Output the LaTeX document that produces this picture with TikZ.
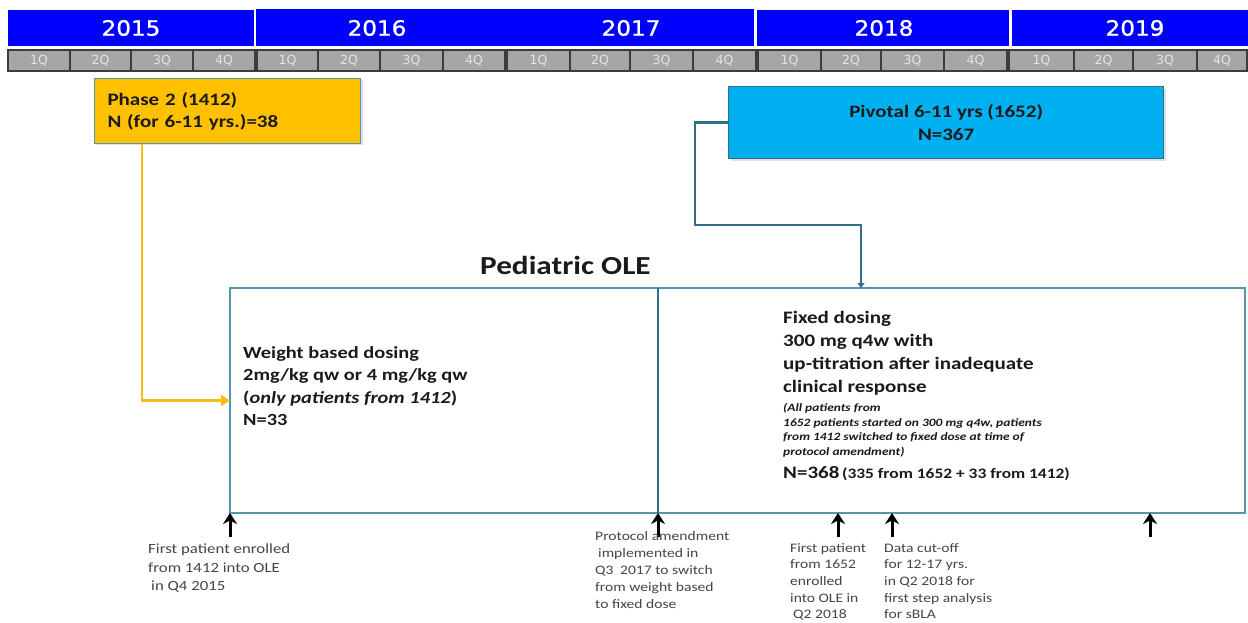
\documentclass[tikz,border=0pt]{standalone}
\usepackage{fontspec}
\setmainfont{Carlito}[FakeStretch=1.2]
\newfontfamily\yearfont{DejaVu Sans}[FakeStretch=1.1,FakeBold=1.2]
\newfontfamily\quarterfont{DejaVu Sans}
\usetikzlibrary{arrows.meta,shadows}

\definecolor{yearblue}{HTML}{0000FF}
\definecolor{qgrey}{HTML}{A6A6A6}
\definecolor{qline}{HTML}{3C3C3C}
\definecolor{qtext}{HTML}{E4E4E4}
\definecolor{phaseorange}{HTML}{FFC000}
\definecolor{phaseline}{HTML}{F7BC1A}
\definecolor{pivblue}{HTML}{00B0F0}
\definecolor{tealdark}{HTML}{2F7089}
\definecolor{tealframe}{HTML}{5596AE}
\definecolor{inktext}{HTML}{1A1A1A}
\definecolor{notetext}{HTML}{454545}

\begin{document}
\begin{tikzpicture}[x=1pt,y=-1pt,
  yearlabel/.style={font=\yearfont\fontsize{21}{21}\selectfont, text=white, inner sep=0pt},
  qcell/.style={fill=qgrey, draw=qline, line width=1.3pt},
  qlabel/.style={font=\quarterfont\fontsize{12.5}{12.5}\selectfont, text=qtext, inner sep=0pt},
  phasebox/.style={fill=phaseorange, draw=tealframe, line width=1pt, inner xsep=13pt, inner ysep=0pt,
    text=inktext, align=left, font=\fontsize{17.5}{22}\selectfont\bfseries,
    drop shadow={opacity=0.25, shadow xshift=2pt, shadow yshift=-2pt}},
  pivbox/.style={fill=pivblue, draw=tealdark, line width=1.3pt, inner sep=0pt,
    text=inktext, align=center, font=\fontsize{17.5}{23}\selectfont\bfseries,
    drop shadow={opacity=0.25, shadow xshift=2pt, shadow yshift=-2pt}},
  olebox/.style={draw=tealframe, line width=2pt, inner sep=0pt, outer sep=0pt},
  bodytext/.style={inner sep=0pt, text=inktext, align=left},
  notetext/.style={inner sep=0pt, text=notetext, align=left},
  phasearrow/.style={draw=phaseline, line width=2.5pt, -{Triangle[length=9pt,width=11pt]}},
  pivarrow/.style={draw=tealdark, line width=2.8pt, -{Triangle[length=5pt,width=7pt]}},
  divider/.style={draw=tealdark, line width=2.8pt},
  tickarrow/.style={draw=black, line width=3pt, -{Stealth[length=11pt,width=14pt]}}
]
\useasboundingbox (0,0) rectangle (1248,623);

% year band
\fill[yearblue] (8,10) rectangle (254,46);
\fill[yearblue] (256,9) rectangle (505,46);
\fill[yearblue] (505,9) rectangle (754,46);
\fill[yearblue] (757,10) rectangle (1009,46);
\fill[yearblue] (1012,10) rectangle (1248,46);
\node[yearlabel] (y2015) at (131,28) {2015};
\node[yearlabel] (y2016) at (377,28) {2016};
\node[yearlabel] (y2017) at (631,28) {2017};
\node[yearlabel] (y2018) at (884,28) {2018};
\node[yearlabel] (y2019) at (1135,28) {2019};

% quarter band
\foreach \a/\b/\q [count=\i] in {8/70/1,70/131/2,131/193/3,193/255/4,
    257/318/1,318/380/2,380/443/3,443/505/4,
    507/570/1,570/630/2,630/693/3,693/756/4,
    758/821/1,821/881/2,881/944/3,944/1007/4,
    1009/1074/1,1074/1133/2,1133/1197/3,1197/1247/4}{
  \draw[qcell] (\a,50) rectangle (\b,71);
  \node[qlabel] (q\i) at ({(\a+\b)/2},60.5) {\q Q};
}

% study boxes
\node[phasebox, minimum width=266pt, minimum height=65pt, text width=240pt, anchor=north west]
  (ph2) at (94,78) {Phase 2 (1412)\\N (for 6-11 yrs.)=38};
\node[pivbox, minimum width=435pt, minimum height=72pt, anchor=north west]
  (piv) at (728,86) {Pivotal 6-11 yrs (1652)\\N=367};

% open-label extension
\node[bodytext, anchor=base west, font=\fontsize{26}{26}\selectfont\bfseries] (title) at (480,274) {Pediatric OLE};
\node[olebox, minimum width=1015pt, minimum height=225pt, anchor=north west] (ole) at (230,288) {};
\draw[divider] (ole.north west -| 658,0) -- (ole.south west -| 658,0);

\node[bodytext, anchor=north west, font=\fontsize{17}{22.5}\selectfont\bfseries] (weight) at (243,346)
  {Weight based dosing\\2mg/kg qw or 4 mg/kg qw\\(\textit{only patients from 1412})\\N=33};

\node[bodytext, anchor=north west, font=\fontsize{17.5}{23}\selectfont\bfseries] (fixed) at (783,311)
  {Fixed dosing\\300 mg q4w with\\up-titration after inadequate\\clinical response};
\node[bodytext, anchor=north west, font=\fontsize{11.2}{14.7}\selectfont\bfseries\itshape] (fixednote) at (783,403)
  {(All patients from\\1652 patients started on 300 mg q4w, patients\\from 1412 switched to fixed dose at time of\\protocol amendment)};
\node[bodytext, anchor=base west, font=\bfseries] (fixedn) at (783,478)
  {{\fontsize{17.5}{20}\selectfont N=368} {\fontsize{14.5}{17}\selectfont(335 from 1652 + 33 from 1412)}};

% connectors
\draw[phasearrow] ([xshift=48pt]ph2.south west) |- (ole.west);
\coordinate (pivbend) at (695,225);
\draw[pivarrow] (piv.west) -| (pivbend) -| (ole.north -| 861,0);

% milestones
\draw[tickarrow] (ole.south west |- 0,537) -- (ole.south west);
\draw[tickarrow] (658,537) -- (ole.south -| 658,0);
\draw[tickarrow] (838,537) -- (ole.south -| 838,0);
\draw[tickarrow] (892,537) -- (ole.south -| 892,0);
\draw[tickarrow] (1150,537) -- (ole.south -| 1150,0);

\node[notetext, anchor=north west, font=\fontsize{14}{18.5}\selectfont] (m1) at (148,544)
  {First patient enrolled\\from 1412 into OLE\\\hspace*{3pt}in Q4 2015};
\node[notetext, anchor=north west, font=\fontsize{13}{17}\selectfont] (m2) at (595,531)
  {Protocol amendment\\\hspace*{3pt}implemented in\\Q3\hspace{3pt} 2017 to switch\\from weight based\\to fixed dose};
\node[notetext, anchor=north west, font=\fontsize{13}{16.7}\selectfont] (m3) at (790,543)
  {First patient\\from 1652\\enrolled\\into OLE in\\\hspace*{3pt}Q2 2018};
\node[notetext, anchor=north west, font=\fontsize{13}{16.7}\selectfont] (m4) at (884,543)
  {Data cut-off\\for 12-17 yrs.\\in Q2 2018 for\\first step analysis\\for sBLA};
\end{tikzpicture}
\end{document}
